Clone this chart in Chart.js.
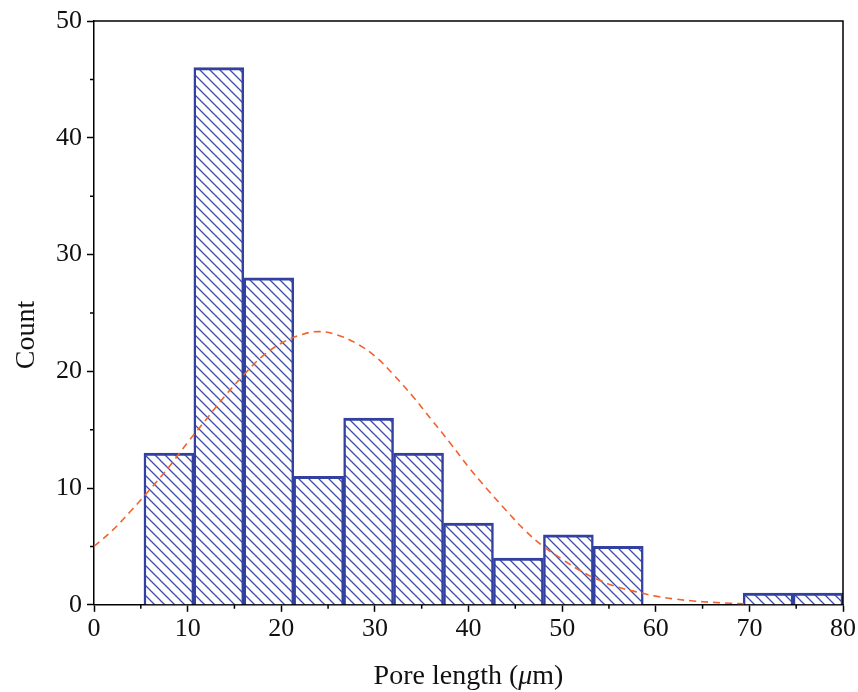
<!DOCTYPE html>
<html>
<head>
<meta charset="utf-8">
<script src="https://cdn.jsdelivr.net/npm/chart.js@4.4.0/dist/chart.umd.min.js"></script>
<style>
  body { margin: 0; background: #fff; }
  #wrap { width: 858px; height: 692px; }
</style>
</head>
<body>
<div id="wrap"><canvas id="histChart"></canvas></div>
<script>
// histogram bins (centre of each bin, bin width 80/15)
const binCenters = [8, 13.33, 18.67, 24, 29.33, 34.67, 40, 45.33, 50.67, 56, 72, 77.33];
const binCounts = [13, 46, 28, 11, 16, 13, 7, 4, 6, 5, 1, 1];

// fitted normal curve
const curveX = [0, 2, 4, 6, 8, 10, 12, 14, 16, 18, 20, 22, 24, 26, 28, 30, 32, 34, 36,
  38, 40, 42, 44, 46, 48, 50, 52, 54, 56, 58, 60, 62, 64, 66, 68, 69.5];
const curveY = [5.0, 6.4, 8.1, 9.9, 11.8, 13.9, 15.9, 17.9, 19.7, 21.3, 22.4, 23.1, 23.4,
  23.1, 22.4, 21.3, 19.7, 17.9, 15.9, 13.9, 11.8, 9.9, 8.1, 6.4, 5.0, 3.9, 2.9, 2.1,
  1.5, 1.1, 0.74, 0.5, 0.33, 0.21, 0.13, 0.09];

const xTicks = [0, 10, 20, 30, 40, 50, 60, 70, 80];
const yTicks = [0, 10, 20, 30, 40, 50];

const fam = "'Liberation Serif', 'Times New Roman', serif";
const barBlue = '#3240a0';

function makeHatch() {
  const c = document.createElement('canvas');
  c.width = 10; c.height = 10;
  const g = c.getContext('2d');
  g.fillStyle = '#fff';
  g.fillRect(0, 0, 10, 10);
  g.strokeStyle = '#3f4ca8';
  g.lineWidth = 1.3;
  g.beginPath();
  g.moveTo(-1, -1); g.lineTo(11, 11);
  g.moveTo(-6, 4); g.lineTo(6, 16);
  g.moveTo(4, -6); g.lineTo(16, 6);
  g.stroke();
  return g.createPattern(c, 'repeat');
}

// frame on top/right, minor ticks and axis titles
const framePlugin = {
  id: 'frame',
  afterDraw(chart) {
    const ctx = chart.ctx, a = chart.chartArea;
    const xs = chart.scales.x, ys = chart.scales.y;
    ctx.save();
    ctx.strokeStyle = '#000';
    ctx.lineWidth = 1.5;
    ctx.beginPath();
    ctx.moveTo(a.left, a.top); ctx.lineTo(a.right, a.top); ctx.lineTo(a.right, a.bottom);
    for (let v = 5; v < 80; v += 10) {
      const px = xs.getPixelForValue(v);
      ctx.moveTo(px, a.bottom); ctx.lineTo(px, a.bottom + 4);
    }
    for (let v = 5; v < 50; v += 10) {
      const py = ys.getPixelForValue(v);
      ctx.moveTo(a.left, py); ctx.lineTo(a.left - 4, py);
    }
    ctx.stroke();

    // x axis title with italic mu
    const parts = [['Pore length (', 'normal'], ['\u03bc', 'italic'], ['m)', 'normal']];
    ctx.fillStyle = '#111';
    ctx.textBaseline = 'alphabetic';
    ctx.textAlign = 'left';
    let total = 0;
    parts.forEach(p => { ctx.font = p[1] + ' 28px ' + fam; total += ctx.measureText(p[0]).width; });
    let x = (a.left + a.right) / 2 - total / 2;
    parts.forEach(p => {
      ctx.font = p[1] + ' 28px ' + fam;
      ctx.fillText(p[0], x, 684);
      x += ctx.measureText(p[0]).width;
    });

    // y axis title
    ctx.translate(34, 335);
    ctx.rotate(-Math.PI / 2);
    ctx.font = '28px ' + fam;
    ctx.textAlign = 'center';
    ctx.fillText('Count', 0, 0);
    ctx.restore();
  }
};

const ctx = document.getElementById('histChart').getContext('2d');
new Chart(ctx, {
  type: 'bar',
  data: {
    datasets: [
      {
        type: 'line',
        data: curveX.map((x, i) => ({ x: x, y: curveY[i] })),
        borderColor: '#f2622e',
        borderWidth: 1.6,
        borderDash: [7, 5],
        pointRadius: 0,
        tension: 0.4,
        fill: false,
        order: 0
      },
      {
        data: binCenters.map((x, i) => ({ x: x, y: binCounts[i] })),
        backgroundColor: makeHatch(),
        borderColor: barBlue,
        borderWidth: { top: 3, left: 2.5, right: 2.5, bottom: 0 },
        borderSkipped: false,
        barPercentage: 1,
        categoryPercentage: 1,
        order: 1
      }
    ]
  },
  options: {
    responsive: true,
    maintainAspectRatio: false,
    animation: false,
    layout: { padding: { left: 51, right: 11, top: 21, bottom: 45 } },
    plugins: { legend: { display: false }, tooltip: { enabled: false } },
    scales: {
      x: {
        type: 'linear',
        min: 0, max: 80,
        offset: false,
        afterBuildTicks: s => { s.ticks = xTicks.map(v => ({ value: v })); },
        ticks: { font: { family: fam, size: 26 }, color: '#111', padding: 2, maxRotation: 0 },
        grid: { drawOnChartArea: false, offset: false, tickLength: 7, tickColor: '#000', tickWidth: 1.5 },
        border: { color: '#000', width: 1.5 }
      },
      y: {
        min: 0, max: 50,
        afterBuildTicks: s => { s.ticks = yTicks.map(v => ({ value: v })); },
        ticks: { font: { family: fam, size: 26 }, color: '#111', padding: 5 },
        grid: { drawOnChartArea: false, tickLength: 7, tickColor: '#000', tickWidth: 1.5 },
        border: { color: '#000', width: 1.5 }
      }
    }
  },
  plugins: [framePlugin]
});
</script>
</body>
</html>
